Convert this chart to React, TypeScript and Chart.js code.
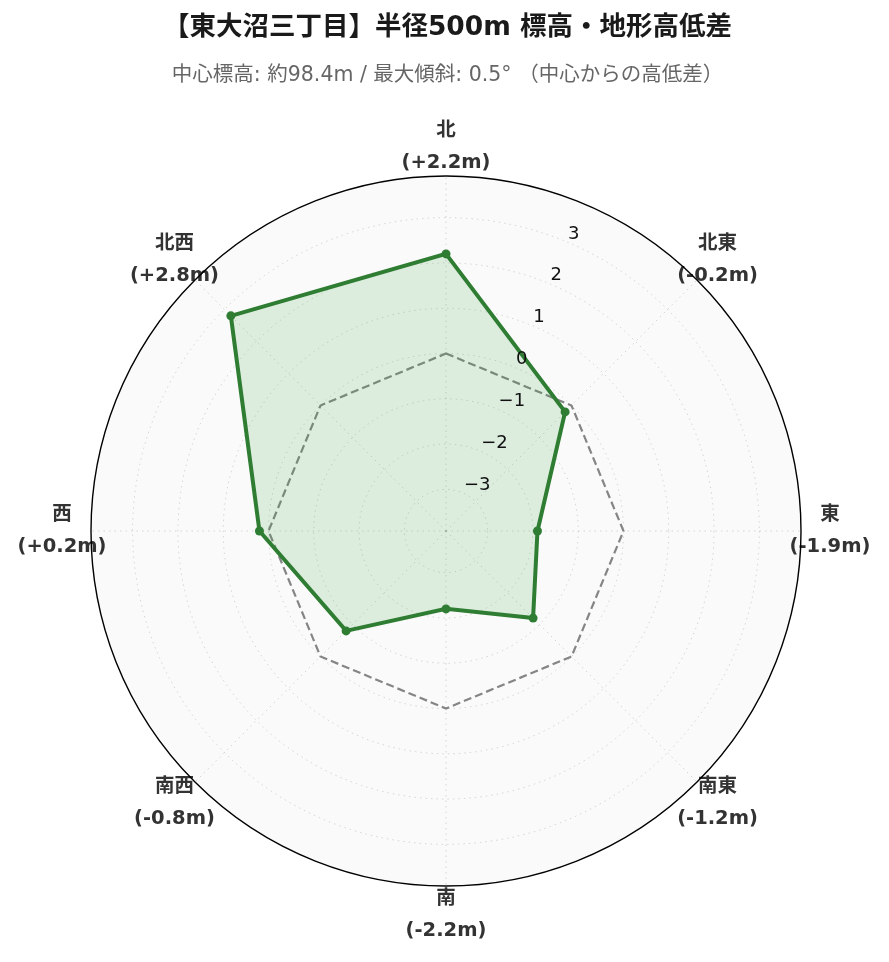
import React, { useEffect, useRef } from "react";
import { Chart, registerables } from "chart.js";

Chart.register(...registerables);

const directions = ["北", "北東", "東", "南東", "南", "南西", "西", "北西"];
const elevationDiff = [2.2, -0.2, -1.9, -1.2, -2.2, -0.8, 0.2, 2.8];
const referenceLevel = [0, 0, 0, 0, 0, 0, 0, 0];
const radialTicks = [-3, -2, -1, 0, 1, 2, 3];
const axisLimit = 3.92;
const titleText = "【東大沼三丁目】半径500m 標高・地形高低差";
const subtitleText = "中心標高: 約98.4m / 最大傾斜: 0.5° （中心からの高低差）";

const FONT = '"DejaVu Sans", "Noto Sans CJK JP", sans-serif';

const fmtDiff = (v: number) => `(${v >= 0 ? "+" : "-"}${Math.abs(v).toFixed(1)}m)`;
const fmtTick = (v: number) => (v < 0 ? "\u2212" + Math.abs(v) : String(v));

const decorPlugin = {
  id: "decor",
  beforeDraw(chart: any) {
    const s = chart.scales.r;
    const ctx = chart.ctx;
    ctx.save();
    ctx.fillStyle = "#fafafa";
    ctx.beginPath();
    ctx.arc(s.xCenter, s.yCenter, s.drawingArea, 0, Math.PI * 2);
    ctx.fill();
    ctx.textAlign = "center";
    ctx.textBaseline = "middle";
    ctx.fillStyle = "#1a1a1a";
    ctx.font = `bold 26.5px ${FONT}`;
    ctx.fillText(titleText, chart.width / 2 + 3, 28);
    ctx.fillStyle = "#666666";
    ctx.font = `20.5px ${FONT}`;
    ctx.fillText(subtitleText, chart.width / 2 + 3, 76);
    ctx.restore();
  },
  beforeDatasetsDraw(chart: any) {
    const s = chart.scales.r;
    const ctx = chart.ctx;
    ctx.save();
    ctx.textAlign = "center";
    ctx.textBaseline = "middle";
    ctx.fillStyle = "#333333";
    ctx.font = `bold 19.5px ${FONT}`;
    directions.forEach((d, i) => {
      const p = s.getPointPosition(i, s.drawingArea + 29);
      ctx.fillText(d, p.x, p.y - 16);
      ctx.fillText(fmtDiff(elevationDiff[i]), p.x, p.y + 16);
    });
    ctx.strokeStyle = "#000";
    ctx.lineWidth = 1.4;
    ctx.beginPath();
    ctx.arc(s.xCenter, s.yCenter, s.getDistanceFromCenterForValue(axisLimit), 0, Math.PI * 2);
    ctx.stroke();
    ctx.restore();
  },
  afterDatasetsDraw(chart: any) {
    const s = chart.scales.r;
    const ctx = chart.ctx;
    ctx.save();
    ctx.textAlign = "left";
    ctx.textBaseline = "alphabetic";
    ctx.fillStyle = "#111";
    ctx.font = `18px ${FONT}`;
    radialTicks.forEach((v) => {
      const p = s.getPointPosition(0.5, s.getDistanceFromCenterForValue(v));
      ctx.fillText(fmtTick(v), p.x + 2, p.y - 3);
    });
    ctx.restore();
  },
};

export default function App() {
  const ref = useRef<HTMLCanvasElement>(null);
  useEffect(() => {
    if (!ref.current) return;
    const chart = new Chart(ref.current, {
      type: "radar",
      data: {
        labels: directions,
        datasets: [
          {
            label: "高低差",
            data: elevationDiff,
            borderColor: "#2e7d32",
            backgroundColor: "rgba(56,160,60,0.15)",
            borderWidth: 4,
            pointRadius: 4.5,
            pointBackgroundColor: "#2e7d32",
            pointBorderColor: "#2e7d32",
            pointBorderWidth: 0,
            fill: "start",
            tension: 0,
            order: 1,
          },
          {
            label: "基準",
            data: referenceLevel,
            borderColor: "#858585",
            borderDash: [8, 4],
            borderWidth: 2.2,
            pointRadius: 0,
            fill: false,
            tension: 0,
            order: 2,
          },
        ],
      },
      options: {
        responsive: false,
        animation: false,
        layout: { padding: { left: 91, right: 88, top: 176, bottom: 76 } },
        plugins: { legend: { display: false }, tooltip: { enabled: false }, title: { display: false } },
        scales: {
          r: {
            min: -axisLimit,
            max: axisLimit,
            afterBuildTicks: (scale: any) => {
              scale.ticks = [-axisLimit, ...radialTicks, axisLimit].map((value) => ({ value }));
            },
            ticks: { display: false },
            pointLabels: { display: false },
            grid: {
              circular: true,
              color: (c: any) =>
                c.tick && Math.abs(Math.abs(c.tick.value) - axisLimit) < 1e-6 ? "rgba(0,0,0,0)" : "rgba(0,0,0,0.15)",
              lineWidth: 1,
            },
            border: { dash: [1.5, 4] },
            angleLines: { color: "rgba(0,0,0,0.15)", lineWidth: 1, borderDash: [1.5, 4] },
          },
        },
      },
      plugins: [decorPlugin],
    } as any);
    return () => chart.destroy();
  }, []);
  return (
    <div style={{ position: "absolute", left: 0, top: 0, width: 889, height: 962, background: "#fff" }}>
      <canvas ref={ref} width={889} height={962} style={{ display: "block" }} />
    </div>
  );
}
